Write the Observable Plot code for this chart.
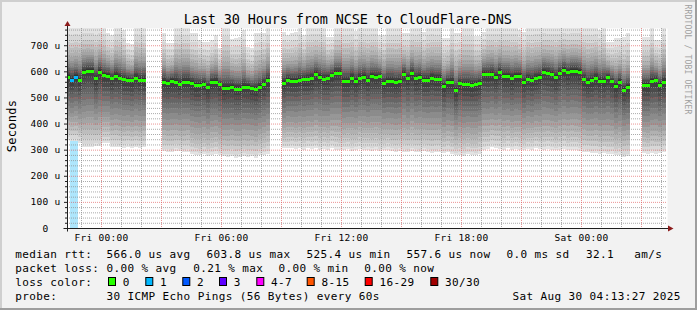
<!DOCTYPE html>
<html><head><meta charset="utf-8">
<script src="https://cdn.jsdelivr.net/npm/d3@7"></script>
<script src="https://cdn.jsdelivr.net/npm/@observablehq/plot@0.6"></script>
<style>
html,body{margin:0;padding:0;background:#f2f2f2;}
#chart{position:relative;width:697px;height:310px;overflow:hidden;background:#f2f2f2;}
#chart svg{display:block;}
</style></head><body><div id="chart"></div>
<script>
// ---------- data ----------
const firstColumnHour = -1.75;  // start of column 0, in hours from Fri 00:00
const columnHours = 0.2;        // 12-minute consolidation step
const xDomainHours = [-1.7, 28.3];
const yDomain = [0, 766];

const xTickHours = [0, 6, 12, 18, 24];
const xTickLabels = ["Fri 00:00", "Fri 06:00", "Fri 12:00", "Fri 18:00", "Sat 00:00"];
const yTicks = [0, 100, 200, 300, 400, 500, 600, 700];
const yTickLabels = ["0\u00a0\u00a0", "100 u", "200 u", "300 u", "400 u", "500 u", "600 u", "700 u"];

// median rtt per column (us), null = no data
const medianRtt = [
 578,568,577,566,599,603,602,573,599,585,584,573,584,576,570,568,566,576,568,568,
 null,null,null,null,
 561,557,564,561,553,561,561,555,547,549,553,539,561,561,550,535,537,541,534,533,541,541,535,531,541,553,566,
 null,null,null,
 555,568,564,564,568,571,571,575,589,578,572,575,585,594,594,564,564,575,563,575,578,568,581,578,581,557,
 564,564,559,562,591,575,592,573,578,568,568,575,571,571,543,559,559,527,554,550,550,547,551,555,591,588,
 591,578,596,582,582,575,581,582,560,572,568,575,578,597,594,589,577,594,606,596,603,603,597,572,559,566,
 575,564,564,577,562,543,560,530,539,
 null,null,null,
 548,548,562,567,548,559
];
// fastest ping per column (us)
const smokeMin = [
 338,333,333,325,312,312,312,315,313,325,325,312,312,310,308,312,306,310,308,310,
 null,null,null,null,
 293,292,290,295,293,290,292,282,280,278,282,276,280,283,278,274,272,275,270,273,276,272,274,270,278,281,285,
 null,null,null,
 306,305,308,303,306,300,306,303,306,300,304,300,306,300,298,300,302,296,300,304,298,300,296,300,294,298,
 300,295,292,296,292,290,294,292,290,295,292,288,290,292,286,290,282,278,280,276,283,280,278,285,300,302,
 310,308,304,300,306,300,303,300,298,302,300,306,301,300,303,300,297,300,302,298,300,298,296,292,290,286,
 288,284,286,282,285,278,280,272,274,
 null,null,null,
 286,284,288,285,287,290
];
// slowest ping per column (us); values above the graph top are clipped
const smokeMax = [
 775,775,775,775,775,775,775,775,775,775,745,740,775,775,760,710,705,775,775,775,
 null,null,null,null,
 745,710,710,775,775,775,775,745,745,720,712,712,720,740,690,775,775,725,728,730,760,695,690,745,745,745,775,
 null,null,null,
 752,740,745,750,775,740,775,775,775,775,775,733,733,775,775,775,775,775,755,775,775,775,775,775,740,740,
 775,775,775,775,745,745,775,775,775,752,775,775,775,775,726,726,775,745,745,775,775,775,735,735,750,775,
 775,775,775,775,775,775,775,760,752,775,775,775,775,775,775,775,775,775,775,775,775,775,775,775,775,775,
 775,760,775,713,713,726,726,730,745,
 null,null,null,
 733,733,775,720,720,775
];
// columns with lost pings
const lossColumns = [1, 2];
const lossPings = [1, 1];

// typical sorted 30-ping spread of one column (us), used as the smoke profile
const typicalPings = [285,295,312,330,350,370,392,414,436,458,478,498,516,536,555,
                      570,576,582,590,598,606,615,625,636,650,665,685,705,735,770];
// SmokePing smoke greys, outermost band first
const smokeGreys = [227,215,202,189,177,164,151,139,126,113,101,88,75,63,50];

const lossLevels = [0, 1, 2, 3, 4, 8, 16, 30];
const lossLabels = ["0", "1", "2", "3", "4-7", "8-15", "16-29", "30/30"];
const lossColors = ["#26ff00", "#00b8ff", "#0059ff", "#5e00ff", "#ff00ff", "#ff5500", "#ff0000", "#a10000"];
const lossBarColors = ["#c8ffbd", "#aee6fc", "#b3cdff", "#cfb3ff", "#ffb3ff", "#ffccb3", "#ffb3b3", "#e3b3b3"];

const titleText = "Last 30 Hours from NCSE to CloudFlare-DNS";
const yLabelText = "Seconds";
const rttItems = ["median rtt:", "566.0 us avg", "603.8 us max", "525.4 us min", "557.6 us now", "0.0 ms sd", "32.1", "am/s"];
const lossItems = ["packet loss:", "0.00 % avg", "0.21 % max", "0.00 % min", "0.00 % now"];
const probeItems = ["probe:", "30 ICMP Echo Pings (56 Bytes) every 60s", "Sat Aug 30 04:13:27 2025"];
const lossColorTitle = "loss color:";
const watermark = "RRDTOOL / TOBI OETIKER";

// ---------- layout ----------
const rttX = [15.3, 106.6, 206.6, 306.6, 406.6, 506.6, 586, 634.3];
const lossX = [15.3, 106.6, 193.3, 278.6, 364.3];
const probeX = [15.3, 106.6, 512.6];
const swatchX = [108.5, 145.8, 182.8, 219.5, 256.8, 307.2, 365.2, 430.8];

// ---------- derived tables ----------
function lossIndex(c) { let j = 0; lossLevels.forEach((l, k) => { if (c >= l) j = k; }); return j; }
const typMed = (typicalPings[14] + typicalPings[15]) / 2;
const typLo = typicalPings[0], typHi = typicalPings[29];

const cols = medianRtt.map((m, i) => {
  const li = lossColumns.indexOf(i);
  const loss = li >= 0 ? lossPings[li] : 0;
  return {i, x1: firstColumnHour + i * columnHours, x2: firstColumnHour + (i + 1) * columnHours,
          median: m, min: smokeMin[i], max: smokeMax[i], loss};
}).filter(d => d.median != null);

function pingsOf(d) {
  return typicalPings.map((p, k) => k < 15
    ? d.min + (p - typLo) / (typMed - typLo) * (d.median - d.min)
    : d.median + (p - typMed) / (typHi - typMed) * (d.max - d.median));
}
const smokeRects = [];
smokeGreys.forEach((g, k) => {
  const hex = "#" + g.toString(16).padStart(2, "0").repeat(3);
  cols.forEach(d => {
    const p = pingsOf(d);
    smokeRects.push({x1: d.x1, x2: d.x2, y1: p[k], y2: p[29 - k], fill: hex});
  });
});
const lossBars = cols.filter(d => d.loss > 0).map(d => ({x1: d.x1, x2: d.x2, y1: yDomain[0], y2: yDomain[1], fill: lossBarColors[lossIndex(d.loss)]}));
const medianRows = cols.map(d => ({x1: d.x1, x2: d.x2, v: d.median, color: lossColors[lossIndex(d.loss)]}));

const xMajor = d3.range(0, 28.3, 3);
const xMinor = d3.range(-1, 28.3, 1).filter(h => h % 3 !== 0);
const yMinor = d3.range(20, 766, 20).filter(v => v % 100 !== 0);

const font = "DejaVu Sans Mono";
const plot = Plot.plot({
  width: 697, height: 310,
  marginLeft: 67, marginRight: 30, marginTop: 28, marginBottom: 82,
  x: {domain: xDomainHours},
  y: {domain: yDomain},
  color: {type: "identity"},
  style: {background: "transparent", fontFamily: font, fontSize: "9.5px", letterSpacing: "0.28px", color: "#000", overflow: "visible"},
  marks: [
    Plot.frame({fill: "#ffffff", stroke: "none"}),
    Plot.rect(lossBars, {x1: "x1", x2: "x2", y1: "y1", y2: "y2", fill: "fill", clip: true, shapeRendering: "crispEdges"}),
    Plot.rect(smokeRects, {x1: "x1", x2: "x2", y1: "y1", y2: "y2", fill: "fill", clip: true, shapeRendering: "crispEdges"}),
    Plot.gridX(xMinor, {stroke: "#8f8f8f", strokeOpacity: 0.75, strokeDasharray: "1,1"}),
    Plot.gridY(yMinor, {stroke: "#8f8f8f", strokeOpacity: 0.75, strokeDasharray: "1,1"}),
    Plot.gridX(xMajor, {stroke: "#de4f4f", strokeOpacity: 0.6, strokeDasharray: "1,1"}),
    Plot.gridY(yTicks.filter(v => v > 0), {stroke: "#de4f4f", strokeOpacity: 0.6, strokeDasharray: "1,1"}),
    Plot.ruleY(medianRows, {x1: "x1", x2: "x2", y: "v", stroke: "color", strokeWidth: 3, clip: true, shapeRendering: "crispEdges"}),
    Plot.axisY(yMinor, {tickSize: 2, stroke: "#1f1f1f", tickFormat: () => ""}),
    Plot.axisY(yTicks, {tickSize: 3, stroke: "#1f1f1f", tickFormat: () => ""}),
    Plot.axisY(yTicks, {tickSize: 0, tickPadding: 7, fontSize: 9.5, tickFormat: v => yTickLabels[yTicks.indexOf(v)]}),
    Plot.axisX(xTickHours, {tickSize: 0, tickPadding: 6, fontSize: 9.5, tickFormat: h => xTickLabels[xTickHours.indexOf(h)]})
  ]
});
document.getElementById("chart").appendChild(plot);

// ---------- axes arrows, titles, legend ----------
const sx = plot.scale("x"), sy = plot.scale("y");
const X0 = Math.round(sx.apply(xDomainHours[0])) + 0.5;
const X1 = Math.round(sx.apply(xDomainHours[1]));
const Y0 = Math.round(sy.apply(0)) + 0.5;
const Yt = Math.round(sy.apply(yDomain[1]));
const svg = d3.select(plot);
const deco = svg.append("g").attr("text-anchor", "start");
deco.append("line").attr("x1", X0 - 4).attr("x2", X1 + 2).attr("y1", Y0).attr("y2", Y0).attr("stroke", "#1f1f1f");
deco.append("line").attr("x1", X0).attr("x2", X0).attr("y1", Y0 + 3).attr("y2", Yt - 3).attr("stroke", "#1f1f1f");
deco.append("path").attr("d", `M${X1 + 1},${Y0 - 3}L${X1 + 6.5},${Y0}L${X1 + 1},${Y0 + 3}Z`).attr("fill", "#8c1c1c");
deco.append("path").attr("d", `M${X0 - 3},${Yt - 2}L${X0},${Yt - 7}L${X0 + 3},${Yt - 2}Z`).attr("fill", "#8c1c1c");

// border
deco.append("rect").attr("x", 0).attr("y", 0).attr("width", 697).attr("height", 2).attr("fill", "#cfcfcf");
deco.append("rect").attr("x", 0).attr("y", 0).attr("width", 2).attr("height", 310).attr("fill", "#cfcfcf");
deco.append("rect").attr("x", 0).attr("y", 308).attr("width", 697).attr("height", 2).attr("fill", "#9e9e9e");
deco.append("rect").attr("x", 695).attr("y", 0).attr("width", 2).attr("height", 310).attr("fill", "#9e9e9e");

function txt(g, s, x, y, size, ls, extra) {
  const t = g.append("text").attr("x", x).attr("y", y).text(s)
    .attr("font-family", font).attr("font-size", size).attr("fill", "#000")
    .attr("text-anchor", "start")
    .style("letter-spacing", ls + "px").style("white-space", "pre");
  if (extra) extra(t);
  return t;
}
txt(deco, titleText, 183.8, 24, 13.5, -0.13);
txt(deco, yLabelText, 0, 0, 12, 0.3, t => t.attr("text-anchor", "middle").attr("transform", "translate(16,126) rotate(-90)"));
txt(deco, watermark, 0, 0, 8, 0.18, t => t.attr("fill", "#a0a0a0").attr("transform", "translate(685.3,4.5) rotate(90)"));

rttItems.forEach((s, k) => txt(deco, s, rttX[k], 257.8, 11, 0.38));
lossItems.forEach((s, k) => txt(deco, s, lossX[k], 272, 11, 0.38));
txt(deco, lossColorTitle, 15.3, 285.6, 11, 0.38);
lossLabels.forEach((s, k) => {
  deco.append("rect").attr("x", swatchX[k]).attr("y", 277.5).attr("width", 7).attr("height", 8)
    .attr("fill", lossColors[k]).attr("stroke", "#000").attr("stroke-width", 1);
  txt(deco, s, swatchX[k] + 14.2, 285.6, 11, 0.38);
});
probeItems.forEach((s, k) => txt(deco, s, probeX[k], 300, 11, 0.38));
</script>
</body></html>
